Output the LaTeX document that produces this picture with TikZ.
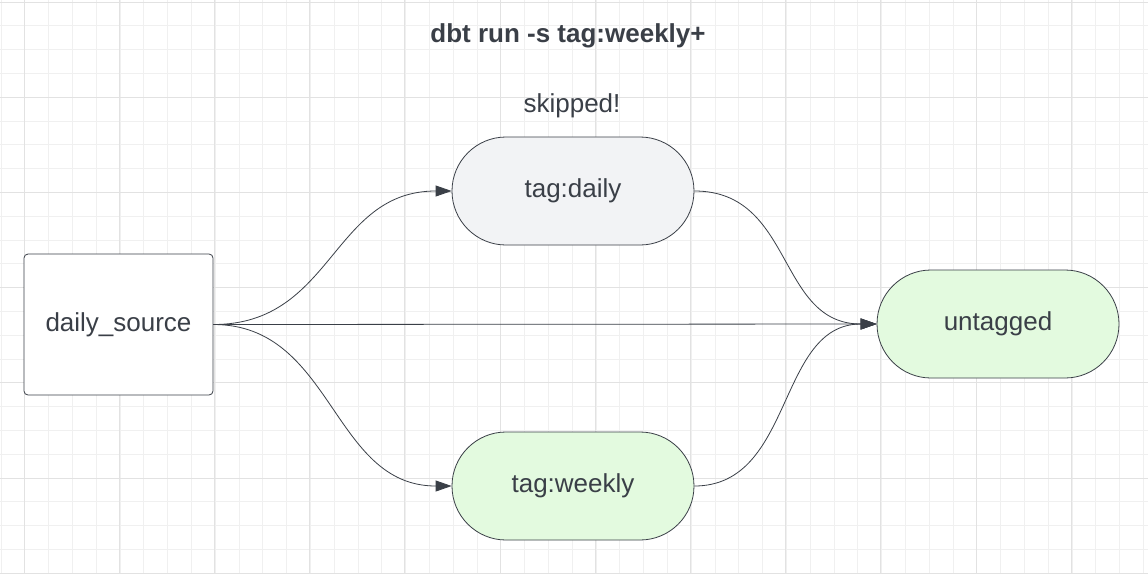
\documentclass[tikz,border=0pt]{standalone}
\usepackage{fontspec}
\setmainfont{Liberation Sans}
\usetikzlibrary{arrows.meta}
\definecolor{ink}{HTML}{3A3F47}
\definecolor{gridl}{HTML}{F0F0F0}
\definecolor{gridd}{HTML}{E2E2E2}
\definecolor{grayfill}{HTML}{F2F3F5}
\definecolor{greenfill}{HTML}{E3FADF}
\begin{document}
\begin{tikzpicture}[x=1pt,y=-1pt,
  pill/.style={draw=ink,line width=0.8pt,rounded corners=54pt,minimum width=242pt,minimum height=108pt,text=ink,font=\fontsize{26}{30}\selectfont},
  boxnode/.style={draw=ink,line width=0.8pt,rounded corners=4pt,minimum width=189pt,minimum height=141pt,text=ink,font=\fontsize{26}{30}\selectfont,fill=white},
  conn/.style={draw=ink,line width=0.8pt,-{Triangle[length=16pt,width=11pt]}}]
\fill[white] (0,0) rectangle (1148,574);
\useasboundingbox (0,0) rectangle (1148,574);
\foreach \i in {0,...,48} {\draw[gridl,line width=1pt] ({1+\i*23.8},0) -- ({1+\i*23.8},574);}
\foreach \i in {0,...,24} {\draw[gridl,line width=1pt] (0,{2+\i*23.8}) -- (1148,{2+\i*23.8});}
\foreach \i in {0,...,12} {\draw[gridd,line width=1pt] ({24+\i*95.2},0) -- ({24+\i*95.2},574);}
\foreach \i in {0,...,6} {\draw[gridd,line width=1pt] (0,{2+\i*95.2}) -- (1148,{2+\i*95.2});}
\node[text=ink,font=\bfseries\fontsize{26}{30}\selectfont] (title) at (568,36) {dbt run -s tag:weekly+};
\node[text=ink,font=\fontsize{26}{30}\selectfont] (skip) at (572,106) {skipped!};
\node[boxnode] (src) at (118.5,324.5) {daily\_source};
\node[pill,fill=grayfill] (daily) at (573,191) {tag:daily};
\node[pill,fill=greenfill] (weekly) at (573,486) {tag:weekly};
\node[pill,fill=greenfill] (untag) at (998,324) {untagged};
\draw[conn] (src.east) .. controls +(120,0) and +(-120,0) .. (daily.west);
\draw[conn] (src.east) .. controls +(120,0) and +(-120,0) .. (weekly.west);
\draw[conn] (src.east) -- (untag.west);
\draw[conn] (daily.east) .. controls +(100,0) and +(-100,0) .. (untag.west);
\draw[conn] (weekly.east) .. controls +(100,0) and +(-100,0) .. (untag.west);
\end{tikzpicture}
\end{document}
